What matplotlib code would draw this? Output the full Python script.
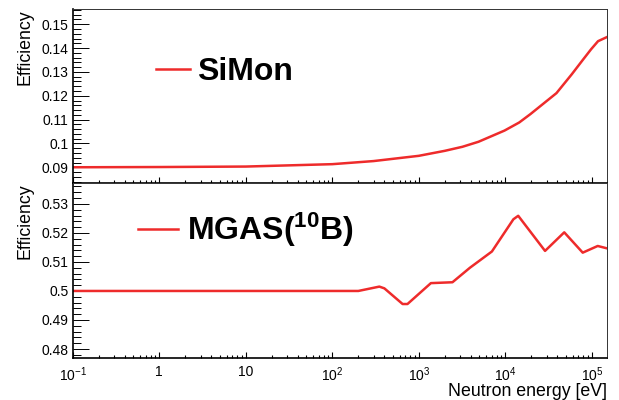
import matplotlib
matplotlib.use("Agg")
import matplotlib.pyplot as plt
from matplotlib.ticker import LogLocator, MultipleLocator, FuncFormatter, NullFormatter, FixedLocator
from matplotlib.font_manager import FontProperties
import numpy as np

plt.rcParams['font.family'] = ['Liberation Sans', 'DejaVu Sans']
plt.rcParams['mathtext.fontset'] = 'custom'
plt.rcParams['mathtext.rm'] = 'Liberation Sans'
plt.rcParams['mathtext.it'] = 'Liberation Sans:italic'
plt.rcParams['mathtext.bf'] = 'Liberation Sans:bold'
plt.rcParams['mathtext.default'] = 'regular'

# Detection efficiency vs neutron energy [eV]
simon_energy = [0.1, 1, 10, 100, 300, 1000, 2000, 3200, 4900, 9800, 14500,
                19500, 39000, 58600, 78500, 98000, 118000, 149000]
simon_eff = [0.0900, 0.0901, 0.0903, 0.0913, 0.0926, 0.0948, 0.0969, 0.0986,
             0.1007, 0.1054, 0.1088, 0.1123, 0.1211, 0.1290, 0.1350, 0.1395,
             0.1429, 0.1446]

mgas_energy = [0.1, 1, 5, 10, 100, 200, 350, 400, 650, 740, 1380, 2450, 3900,
               7000, 12400, 14100, 28800, 48000, 78500, 117000, 149000]
mgas_eff = [0.5000, 0.5000, 0.5000, 0.5000, 0.5000, 0.5000, 0.5015, 0.5009,
            0.4955, 0.4955, 0.5027, 0.5030, 0.5080, 0.5136, 0.5247, 0.5259,
            0.5138, 0.5202, 0.5132, 0.5155, 0.5147]

x_ticks = [0.1, 1, 10, 100, 1000, 1e4, 1e5]
x_tick_labels = ['$10^{-1}$', '1', '10', '$10^{2}$', '$10^{3}$', '$10^{4}$', '$10^{5}$']

RED = '#ee2b2b'
LW = 1.8

fig = plt.figure(figsize=(6.19, 4.0), dpi=100)
ax1 = fig.add_axes([0.1175, 0.5425, 0.8628, 0.4338])
ax2 = fig.add_axes([0.1175, 0.105, 0.8628, 0.4375])

ax1.plot(simon_energy, simon_eff, color=RED, lw=LW, label='SiMon',
         solid_joinstyle='round')
ax2.plot(mgas_energy, mgas_eff, color=RED, lw=LW,
         label=r'MGAS($^{\mathbf{10}}$B)', solid_joinstyle='round')

ax1.set_ylim(0.0834, 0.1562)
ax2.set_ylim(0.4769, 0.5372)
ax1.yaxis.set_major_locator(MultipleLocator(0.01))
ax1.yaxis.set_minor_locator(MultipleLocator(0.002))
ax2.yaxis.set_major_locator(MultipleLocator(0.01))
ax2.yaxis.set_minor_locator(MultipleLocator(0.002))
yfmt = FuncFormatter(lambda v, p: '%g' % round(v, 3))

for ax in (ax1, ax2):
    ax.set_xscale('log')
    ax.set_xlim(0.1, 1.49e5)
    ax.xaxis.set_major_locator(FixedLocator(x_ticks))
    ax.xaxis.set_minor_locator(LogLocator(base=10, subs=np.arange(2, 10), numticks=20))
    ax.xaxis.set_minor_formatter(NullFormatter())
    ax.yaxis.set_major_formatter(yfmt)
    ax.tick_params(axis='y', which='major', direction='in', length=11.5, width=0.7,
                   left=True, right=False, labelsize=10, pad=3)
    ax.tick_params(axis='y', which='minor', direction='in', length=5.8, width=0.7,
                   left=True, right=False)
    ax.tick_params(axis='x', which='major', direction='in', length=4.0, width=0.8,
                   bottom=True, top=False, labelsize=10, pad=5)
    ax.tick_params(axis='x', which='minor', direction='in', length=2.0, width=0.8,
                   bottom=True, top=False)
    for side in ('left', 'bottom'):
        ax.spines[side].set_linewidth(1.2)
        ax.spines[side].set_color('black')
    for side in ('top', 'right'):
        ax.spines[side].set_linewidth(0.7)
        ax.spines[side].set_color('#333333')
    ax.set_ylabel('Efficiency', fontsize=12.8, loc='top')
    ax.yaxis.set_label_coords(-0.0738, 1.0)

ax1.tick_params(axis='x', labelbottom=False)
ax2.set_xticklabels(x_tick_labels)
ax2.set_xlabel('Neutron energy [eV]', fontsize=12.8, loc='right')
ax2.xaxis.set_label_coords(1.0, -0.142)

leg_font = FontProperties(family='Liberation Sans', weight='bold', size=23)
ax1.legend(loc='center left', bbox_to_anchor=(0.1554, 0.641), frameon=False,
           borderpad=0, borderaxespad=0, handlelength=1.07, handletextpad=0.22,
           prop=leg_font)
ax2.legend(loc='center left', bbox_to_anchor=(0.1217, 0.730), frameon=False,
           borderpad=0, borderaxespad=0, handlelength=1.25, handletextpad=0.28,
           prop=leg_font)

fig.savefig('out.png', dpi=100)
